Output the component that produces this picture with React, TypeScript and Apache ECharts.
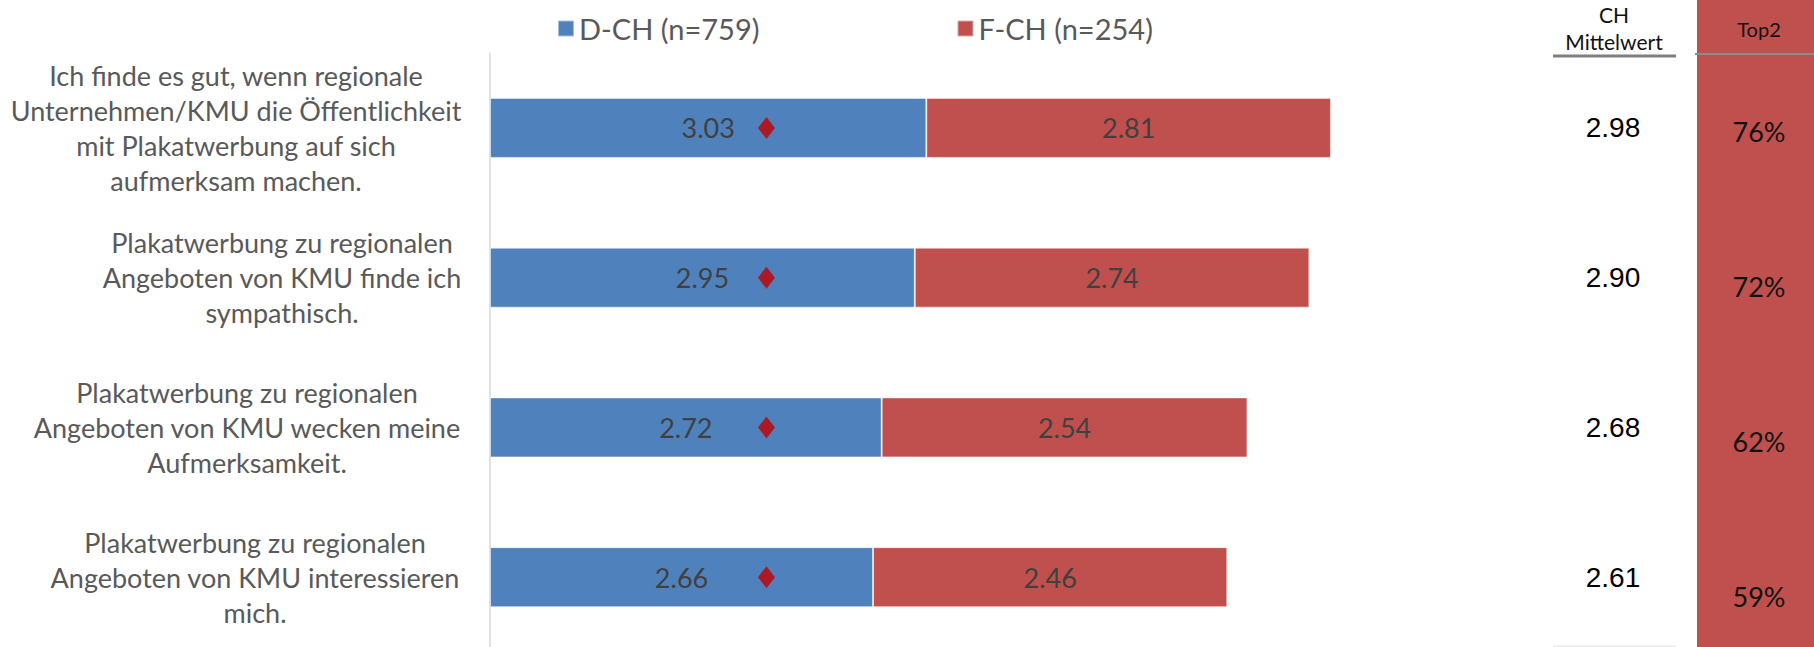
import React, { useEffect, useRef } from "react";
import * as echarts from "echarts";

const categories = [
  "Ich finde es gut, wenn regionale\nUnternehmen/KMU die Öffentlichkeit\nmit Plakatwerbung auf sich\naufmerksam machen.",
  "Plakatwerbung zu regionalen\nAngeboten von KMU finde ich\nsympathisch.",
  "Plakatwerbung zu regionalen\nAngeboten von KMU wecken meine\nAufmerksamkeit.",
  "Plakatwerbung zu regionalen\nAngeboten von KMU interessieren\nmich.",
];
const seriesNames = ["D-CH (n=759)", "F-CH (n=254)"];
const dchValues = [3.03, 2.95, 2.72, 2.66];
const fchValues = [2.81, 2.74, 2.54, 2.46];
const markerValues = [1.92, 1.92, 1.92, 1.92];
const chMean = ["2.98", "2.90", "2.68", "2.61"];
const top2 = ["76%", "72%", "62%", "59%"];

const BLUE = "#4f81bd";
const RED = "#c0504d";
const GREY_TEXT = "#595959";

// horizontal shift (right padding) per category label so the blocks sit like in the source
const labelPad = [92, 0, 70, 54];

export default function App() {
  const ref = useRef<HTMLDivElement>(null);
  useEffect(() => {
    if (!ref.current) return;
    const chart = echarts.init(ref.current, undefined, { renderer: "svg" });
    const rich: any = {};
    labelPad.forEach((p, i) => {
      rich["c" + i] = {
        fontFamily: "Lato",
        fontSize: 27,
        lineHeight: 35,
        color: GREY_TEXT,
        padding: [0, p, 0, 0],
      };
    });
    chart.setOption({
      animation: false,
      backgroundColor: "#ffffff",
      legend: {
        data: seriesNames,
        left: 552,
        top: 9,
        itemWidth: 16,
        itemHeight: 16,
        itemGap: 197,
        icon: "rect",
        textStyle: { fontFamily: "Lato", fontSize: 29, color: GREY_TEXT },
      },
      grid: [
        { left: 490, width: 864, top: 53, height: 599, outerBoundsMode: "none" },
        { left: 1697, width: 117, top: 54, height: 620, outerBoundsMode: "none" },
      ],
      xAxis: [
        { gridIndex: 0, type: "value", min: 0, max: 6, show: false },
        { gridIndex: 1, type: "value", min: 0, max: 1, show: false },
      ],
      yAxis: [
        {
          gridIndex: 0,
          type: "category",
          data: categories,
          inverse: true,
          axisLine: { show: true, lineStyle: { color: "#d9d9d9", width: 1.5 } },
          axisTick: { show: false },
          splitLine: { show: false },
          axisLabel: {
            align: "center",
            margin: 208,
            formatter: (v: string, i: number) => `{c${i}|${v}}`,
            rich,
          },
        },
        {
          gridIndex: 0,
          type: "category",
          data: chMean,
          inverse: true,
          position: "right",
          axisLine: { show: false },
          axisTick: { show: false },
          splitLine: { show: false },
          axisLabel: {
            align: "center",
            margin: 259,
            fontFamily: "Liberation Sans",
            fontSize: 28,
            color: "#000000",
            padding: [12, 0, 0, 0],
          },
        },
        {
          gridIndex: 1,
          type: "category",
          data: top2,
          inverse: true,
          position: "left",
          axisLine: { show: false },
          axisTick: { show: false },
          splitLine: { show: false },
          axisLabel: {
            align: "center",
            margin: -62,
            fontFamily: "Lato",
            fontSize: 27,
            color: "#111111",
          },
        },
      ],
      series: [
        {
          name: seriesNames[0],
          type: "bar",
          stack: "total",
          data: dchValues,
          barWidth: 60,
          itemStyle: { color: BLUE, borderColor: "rgba(255,255,255,0.5)", borderWidth: 1 },
          label: {
            show: true,
            position: "inside",
            formatter: (p: any) => Number(p.value).toFixed(2),
            fontFamily: "Lato",
            fontSize: 27,
            color: "#404040",
          },
          z: 2,
        },
        {
          name: seriesNames[1],
          type: "bar",
          stack: "total",
          data: fchValues,
          barWidth: 60,
          itemStyle: { color: RED, borderColor: "rgba(255,255,255,0.5)", borderWidth: 1 },
          label: {
            show: true,
            position: "inside",
            formatter: (p: any) => Number(p.value).toFixed(2),
            fontFamily: "Lato",
            fontSize: 27,
            color: "#404040",
          },
          z: 2,
        },
        {
          name: "marker",
          type: "scatter",
          data: markerValues.map((v, i) => [v, i]),
          symbol: "diamond",
          symbolSize: [17, 22],
          itemStyle: { color: "#c00000" },
          z: 5,
          silent: true,
        },
      ],
      graphic: [
        {
          type: "rect",
          shape: { x: 1697, y: 0, width: 117, height: 647 },
          style: { fill: RED },
          z: -10,
        },
        {
          type: "line",
          shape: { x1: 1695, y1: 54, x2: 1814, y2: 54 },
          style: { stroke: "#8c8c8c", lineWidth: 2 },
        },
        {
          type: "line",
          shape: { x1: 1553, y1: 56, x2: 1676, y2: 56 },
          style: { stroke: "#7f7f7f", lineWidth: 3 },
        },
        {
          type: "line",
          shape: { x1: 1553, y1: 646, x2: 1676, y2: 646 },
          style: { stroke: "#e0e0e0", lineWidth: 1 },
        },
        {
          type: "text",
          x: 1614,
          y: 14,
          style: {
            text: "CH",
            fontFamily: "Lato",
            fontSize: 21,
            fill: "#111111",
            align: "center",
            verticalAlign: "middle",
          },
        },
        {
          type: "text",
          x: 1614,
          y: 41,
          style: {
            text: "Mittelwert",
            fontFamily: "Lato",
            fontSize: 21,
            fill: "#111111",
            align: "center",
            verticalAlign: "middle",
          },
        },
        {
          type: "text",
          x: 1759,
          y: 29,
          style: {
            text: "Top2",
            fontFamily: "Lato",
            fontSize: 20,
            fill: "#111111",
            align: "center",
            verticalAlign: "middle",
          },
        },
      ],
    });
    return () => chart.dispose();
  }, []);
  return (
    <div
      ref={ref}
      style={{ position: "absolute", left: 0, top: 0, width: 1814, height: 647 }}
    />
  );
}
